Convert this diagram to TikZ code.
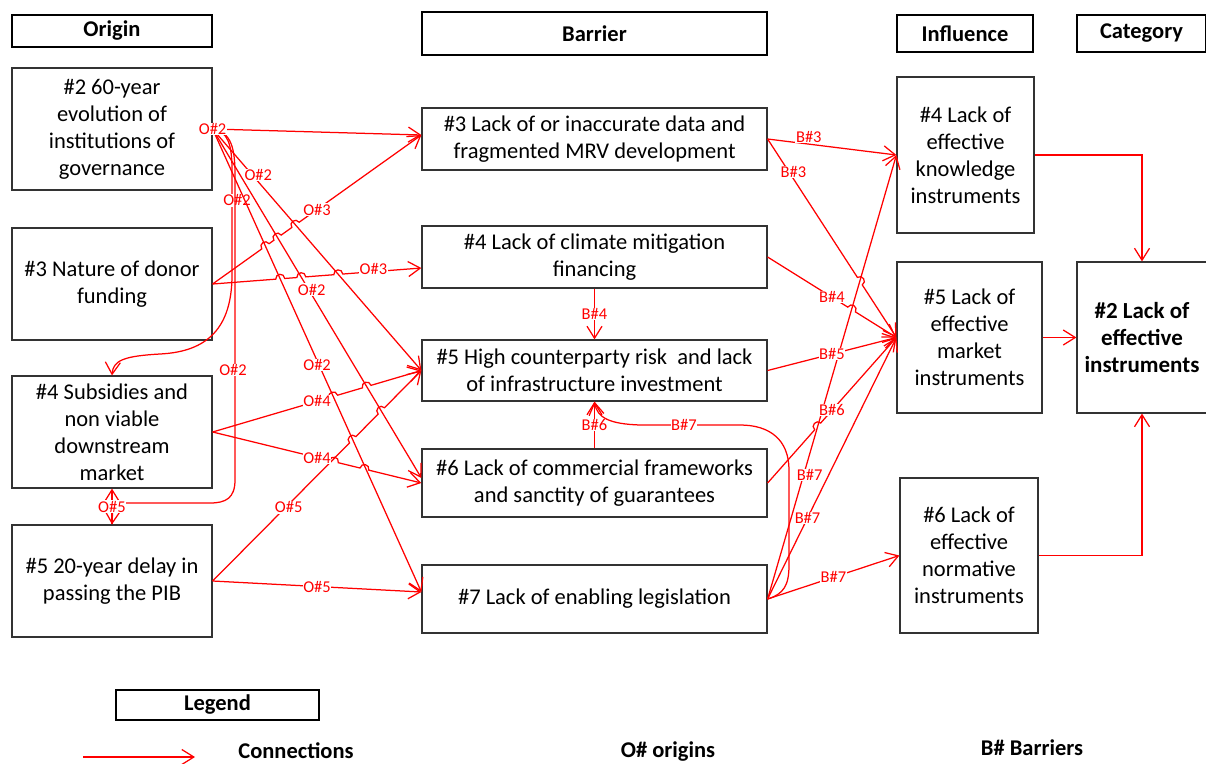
\documentclass[tikz,border=0pt]{standalone}
\usepackage{fontspec}
\setmainfont{Carlito}
\usetikzlibrary{arrows.meta,calc}
\definecolor{conred}{RGB}{255,0,0}
% straight connector that hops over earlier lines at the given fractions
\newcommand\hopline[5][]{%
  \draw[conn,#1] (#2) \foreach \t in {#4} {
      -- ($(#2)!\t!(#3)!4.5pt!(#2)$)
      to[bend left=90,looseness=1.7] ($(#2)!\t!(#3)!4.5pt!(#3)$)
    } -- (#3) #5;}
\begin{document}
\begin{tikzpicture}[x=1pt,y=-1pt,
  box/.style={draw=black!80,line width=1.2pt,rectangle,inner sep=0pt,align=center,
    font=\fontsize{22.5}{27}\selectfont},
  head/.style={draw=black,line width=1.8pt,rectangle,inner sep=0pt,
    font=\fontsize{22.5}{27}\selectfont\bfseries},
  conn/.style={draw=conred,line width=1.25pt,
    -{Straight Barb[length=12pt,width=15pt,line width=1.25pt]}},
  lbl/.style={text=conred,fill=white,inner sep=0.6pt,font=\fontsize{16.5}{18}\selectfont},
  legtext/.style={font=\fontsize{22.5}{27}\selectfont\bfseries},
]
\useasboundingbox (0,0) rectangle (1206,763);

% column headings
\node[head,minimum width=200pt,minimum height=32pt] (hOrigin) at (112,31) {Origin};
\node[head,minimum width=345pt,minimum height=43pt] (hBarrier) at (594.5,33.5) {Barrier};
\node[head,minimum width=136pt,minimum height=37pt] (hInfluence) at (965,33.5) {Influence};
\node[head,minimum width=129pt,minimum height=37pt] (hCategory) at (1141.5,33.5) {Category};

% origins
\node[box,minimum width=200pt,minimum height=122pt] (o2) at (112,129)
  {\#2 60-year\\evolution of\\institutions of\\governance};
\node[box,minimum width=200pt,minimum height=112pt] (o3) at (112,284)
  {\#3 Nature of donor\\funding};
\node[box,minimum width=200pt,minimum height=112pt] (o4) at (112,432)
  {\#4 Subsidies and\\non viable\\downstream\\market};
\node[box,minimum width=200pt,minimum height=112pt] (o5) at (112,581)
  {\#5 20-year delay in\\passing the PIB};

% barriers
\node[box,minimum width=345pt,minimum height=62pt] (b3) at (594.5,139)
  {\#3 Lack of or inaccurate data and\\fragmented MRV development};
\node[box,minimum width=345pt,minimum height=62pt] (b4) at (594.5,257)
  {\#4 Lack of climate mitigation\\financing};
\node[box,minimum width=345pt,minimum height=61pt] (b5) at (594.5,370.5)
  {\#5 High counterparty risk\ \ and lack\\of infrastructure investment};
\node[box,minimum width=345pt,minimum height=68pt] (b6) at (594.5,483)
  {\#6 Lack of commercial frameworks\\and sanctity of guarantees};
\node[box,minimum width=345pt,minimum height=68pt] (b7) at (594.5,599)
  {\#7 Lack of enabling legislation};

% influences
\node[box,minimum width=137pt,minimum height=156pt] (i4) at (965.5,155)
  {\#4 Lack of\\effective\\knowledge\\instruments};
\node[box,minimum width=145pt,minimum height=151pt] (i5) at (969.5,337.5)
  {\#5 Lack of\\effective\\market\\instruments};
\node[box,minimum width=138pt,minimum height=155pt] (i6) at (969,555.5)
  {\#6 Lack of\\effective\\normative\\instruments};

% category
\node[box,minimum width=130pt,minimum height=151pt,
  font=\fontsize{23}{27}\selectfont\bfseries] (cat) at (1142,337.5)
  {\#2 Lack of\\effective\\instruments};

% entry points on the left side of the barrier boxes
\coordinate (b3in) at ($(b3.west)+(0,-4)$);
\coordinate (b4in) at ($(b4.west)+(0,11)$);
\coordinate (b6in) at ($(b6.west)+(0,-5)$);
\coordinate (b7in) at ($(b7.west)+(0,-7)$);

% ---- origin to origin ----
\draw[conn] (o2.east) .. controls (228,131) and (232,145) .. (232,170)
  -- node[lbl,pos=0.29,xshift=5pt]{O\#2} (232,275)
  .. controls (232,335) and (200,352) .. (160,354)
  .. controls (125,356) and (113,360) .. (o4.north);
\draw[conn] (o2.east) .. controls (232,132) and (235,150) .. (235,175)
  -- node[lbl,pos=0.64,xshift=-2pt]{O\#2} (235,480)
  .. controls (235,498) and (226,503) .. (210,503)
  -- (113,503) -- (o5.north);
\draw[conn] (o5.north) -- node[lbl]{O\#5} (o4.south);

% ---- origin to barrier ----
\draw[conn] (o2.east) -- node[lbl,pos=0.19,xshift=6pt]{O\#2} (b5.west);
\draw[conn] (o2.east) -- node[lbl,pos=0.46,xshift=3pt]{O\#2} (b6in);
\draw[conn] (o2.east) -- node[lbl,pos=0.51,xshift=-2pt]{O\#2} (b7in);
\hopline{o3.east}{b3in}{0.253,0.311,0.397}
  {node[lbl] at ($(o3.east)!0.5!(b3in)$) {O\#3}}
\hopline{o3.east}{b4in}{0.324,0.425,0.602}
  {node[lbl] at ($(o3.east)!0.77!(b4in)+(0,-3)$) {O\#3}}
\hopline{o4.east}{b5.west}{0.578,0.738}
  {node[lbl] at ($(o4.east)!0.5!(b5.west)$) {O\#4}}
\hopline{o5.east}{b5.west}{0.671,0.808}
  {node[lbl] at ($(o5.east)!0.35!(b5.west)+(3,0)$) {O\#5}}
\hopline{o4.east}{b6.west}{0.581,0.727}
  {node[lbl] at ($(o4.east)!0.5!(b6.west)$) {O\#4}}
\draw[conn] (o5.east) -- node[lbl,pos=0.5]{O\#5} (b7in);
\draw[conn] (o2.east) -- node[lbl,pos=0]{O\#2} (b3in);

% ---- barrier to barrier ----
\draw[conn] (b4.south) -- node[lbl]{B\#4} (b5.north);
\draw[conn] (b6.north) -- node[lbl]{B\#6} (b5.south);
\draw[conn] (b7.east) .. controls (784,594) and (789,585) .. (789,565)
  -- (789,470) .. controls (789,440) and (770,425) .. (740,425)
  -- node[lbl,pos=0.56]{B\#7} (640,425)
  .. controls (610,424) and (597,418) .. (b5.south);

% ---- barrier to influence ----
\draw[conn] (b7.east) -- node[lbl,pos=0.28,xshift=6pt]{B\#7} (i4.west);
\draw[conn] (b3.east) -- node[lbl,pos=0.32,yshift=7pt]{B\#3} (i4.west);
\hopline{b3.east}{i5.west}{0.716}
  {node[lbl] at ($(b3.east)!0.166!(i5.west)+(4.5,0)$) {B\#3}}
\hopline{b4.east}{i5.west}{0.652}
  {node[lbl] at ($(b4.east)!0.5!(i5.west)$) {B\#4}}
\draw[conn] (b5.east) -- node[lbl,pos=0.5]{B\#5} (i5.west);
\hopline{b6.east}{i5.west}{0.389}
  {node[lbl] at ($(b6.east)!0.5!(i5.west)$) {B\#6}}
\draw[conn] (b7.east) -- node[lbl,pos=0.31]{B\#7} (i5.west);
\draw[conn] (b7.east) -- node[lbl,pos=0.5]{B\#7} (i6.west);

% ---- influence to category ----
\draw[conn] (i4.east) -| (cat.north);
\draw[conn] (i5.east) -- (cat.west);
\draw[conn] (i6.east) -| (cat.south);

% legend
\node[head,minimum width=203pt,minimum height=30pt] (legend) at (217.5,705) {Legend};
\coordinate (legStart) at (83,757);
\coordinate (legEnd) at (195,757);
\draw[conn] (legStart) -- (legEnd);
\node[legtext] (legConn) at (296,751) {Connections};
\node[legtext] (legOrig) at (668,751) {O\# origins};
\node[legtext] (legBarr) at (1032,748) {B\# Barriers};
\end{tikzpicture}
\end{document}
